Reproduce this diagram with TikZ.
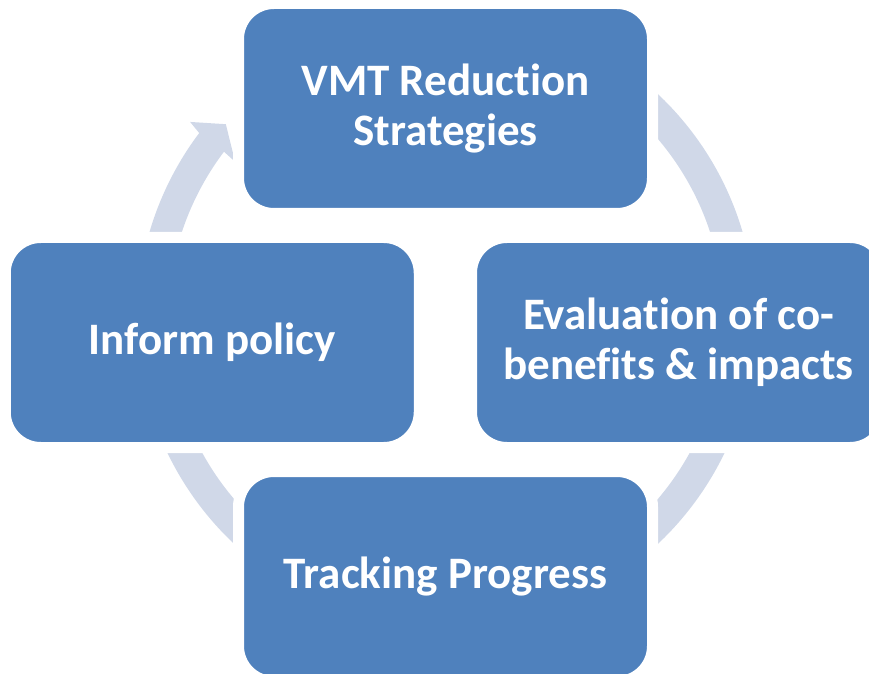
\documentclass[tikz,border=0pt]{standalone}
\usepackage{fontspec}
\setmainfont{Carlito}[Ligatures=NoCommon]
\usepackage{xcolor}
\usepackage{tikz}
\usetikzlibrary{positioning}

\definecolor{stepblue}{HTML}{4F81BD}
\definecolor{ringgrey}{HTML}{D0D8E8}

\begin{document}
\begin{tikzpicture}[x=1pt, y=1pt,
    stagebox/.style={rectangle, rounded corners=35.5, fill=stepblue, draw=white,
        line width=11, minimum width=414, minimum height=210, inner sep=0,
        text=white, align=center, font={\fontsize{45}{50}\selectfont\bfseries}}]
    \clip (0, 0) rectangle (869, 673);

    % Circular arrow behind the boxes
    \fill[ringgrey, shift={(446, 354)}]
        (90:309) arc[start angle=90, end angle=-217, radius=309]
        -- (-217.6:323) -- (-221.5:294) -- (-216.7:263)
        -- (-217:278) arc[start angle=-217, end angle=90, radius=278] -- cycle;

    % Stages of the cycle
    \node[stagebox] (strategies) at (445.5, 564.5) {VMT Reduction\\Strategies};
    \node[stagebox] (evaluation) at (678.5, 330.5) {Evaluation of co-\\benefits \& impacts};
    \node[stagebox] (tracking) at (445.5, 96.5) {Tracking Progress};
    \node[stagebox] (policy) at (212.25, 330.5) {Inform policy};
\end{tikzpicture}
\end{document}
